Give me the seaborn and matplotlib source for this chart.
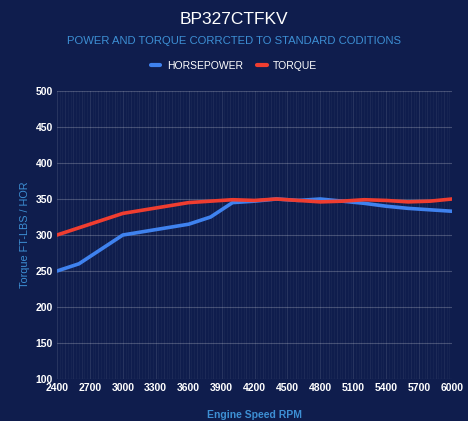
import numpy as np
import pandas as pd
import matplotlib
matplotlib.use('Agg')
import matplotlib.pyplot as plt
import seaborn as sns

rpm = [2400, 2600, 2800, 3000, 3200, 3400, 3600, 3800, 4000, 4200, 4400,
       4600, 4800, 5000, 5200, 5400, 5600, 5800, 6000]
horsepower = [250, 260, 280, 300, 305, 310, 315, 325, 345, 347, 350,
              348, 350, 347, 344, 340, 337, 335, 333]
torque = [300, 310, 320, 330, 335, 340, 345, 347, 349, 348, 350,
          348, 346, 347, 349, 348, 346, 347, 350]
x_ticks = list(range(2400, 6001, 300))
y_ticks = list(range(100, 501, 50))

BG = '#0f1d4d'
AXIS_BLUE = '#3d8fd4'
HP_COLOR = '#3f82ef'
TQ_COLOR = '#ef3d30'

df = pd.concat([
    pd.DataFrame({'rpm': rpm, 'value': horsepower, 'series': 'HORSEPOWER'}),
    pd.DataFrame({'rpm': rpm, 'value': torque, 'series': 'TORQUE'}),
])

sns.set_theme(style='dark')
plt.rcParams['font.family'] = ['Liberation Sans', 'DejaVu Sans']

fig = plt.figure(figsize=(4.68, 4.21), dpi=100, facecolor=BG)
ax = fig.add_axes([57 / 468, 1 - 379 / 421, 395 / 468, 288 / 421])
ax.set_facecolor(BG)

# dense faint vertical grid, like the category axis of the original
for x in np.arange(2400, 6001, 25):
    a = 0.10 if (x - 2400) % 300 == 0 else 0.03 + 0.03 * ((x // 25) % 3 == 0)
    ax.axvline(x, color='white', alpha=a, lw=0.8, zorder=0)
for y in y_ticks:
    ax.axhline(y, color='white', alpha=0.22, lw=0.8, zorder=0)

sns.lineplot(data=df, x='rpm', y='value', hue='series',
             palette={'HORSEPOWER': HP_COLOR, 'TORQUE': TQ_COLOR},
             linewidth=2.6, ax=ax, legend=False, zorder=3)

ax.set_xlim(2400, 6000)
ax.set_ylim(100, 500)
ax.set_xticks(x_ticks)
ax.set_yticks(y_ticks)
ax.tick_params(colors='white', labelsize=7.5, length=0, pad=3)
for lbl in ax.get_xticklabels() + ax.get_yticklabels():
    lbl.set_fontweight('bold')
for s in ax.spines.values():
    s.set_visible(False)
ax.grid(False)

ax.set_xlabel('Engine Speed RPM', color=AXIS_BLUE, fontsize=7.5,
              fontweight='bold', labelpad=12)
ax.set_ylabel('Torque FT-LBS / HOR', color=AXIS_BLUE, fontsize=7.8,
              labelpad=4)

fig.text(0.5, 1 - 19 / 421, 'BP327CTFKV', color='white', fontsize=12.5,
         ha='center', va='center')
fig.text(0.5, 1 - 41 / 421, 'POWER AND TORQUE CORRCTED TO STANDARD CODITIONS',
         color=AXIS_BLUE, fontsize=8.1, ha='center', va='center')

handles = [plt.Line2D([], [], color=HP_COLOR, lw=3),
           plt.Line2D([], [], color=TQ_COLOR, lw=3)]
leg = fig.legend(handles, ['HORSEPOWER', 'TORQUE'], loc='center',
                 bbox_to_anchor=(0.5, 1 - 66 / 421), ncol=2, frameon=False,
                 fontsize=7.5, handlelength=0.9, columnspacing=1.4,
                 handletextpad=0.6)
for t in leg.get_texts():
    t.set_color('white')

fig.savefig('out.png', dpi=100, facecolor=BG)
